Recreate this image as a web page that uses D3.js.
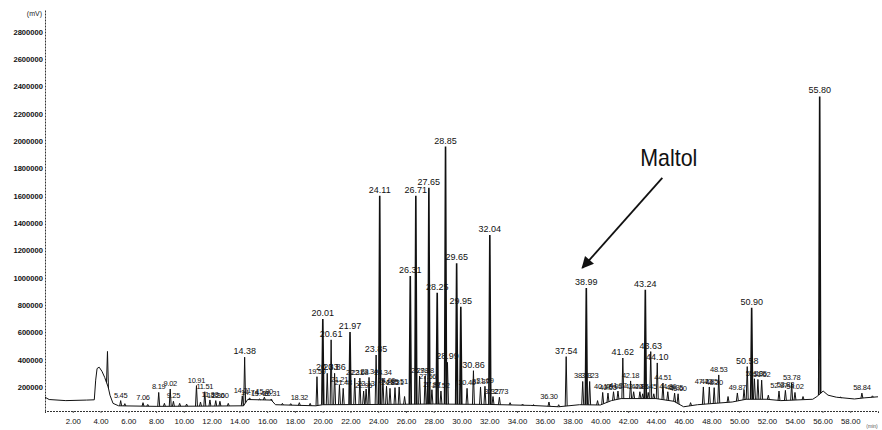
<!DOCTYPE html>
<html>
<head>
<meta charset="utf-8">
<script src="https://cdn.jsdelivr.net/npm/d3@7"></script>
<style>
  body { margin: 0; background: #fff; }
  svg { display: block; font-family: "Liberation Sans", Arial, sans-serif; }
</style>
</head>
<body>
<div id="chart"></div>
<script>
// tick labels
const xTicks = [2, 4, 6, 8, 10, 12, 14, 16, 18, 20, 22, 24, 26, 28, 30, 32, 34, 36, 38, 40, 42, 44, 46, 48, 50, 52, 54, 56, 58];
const yTicks = [200000, 400000, 600000, 800000, 1000000, 1200000, 1400000, 1600000, 1800000, 2000000, 2200000, 2400000, 2600000, 2800000];

// baseline of the trace, [time (min), signal (mV)]
const baseline = [
  [0, 125000], [0.3, 108000], [1.5, 100000], [3.0, 104000], [3.55, 106000],
  [3.65, 250000], [3.75, 335000], [3.9, 345000], [4.1, 315000], [4.3, 270000],
  [4.42, 235000], [4.55, 200000], [4.68, 140000], [4.9, 80000], [5.3, 62000],
  [8, 58000], [12, 60000], [14.3, 62000], [14.6, 108000], [16.3, 104000],
  [16.6, 70000], [19.5, 62000], [20, 70000], [24, 72000], [28, 75000],
  [32, 72000], [35, 65000], [37, 55000], [38.5, 70000], [40, 68000],
  [40.8, 100000], [41.5, 115000], [44, 115000], [45.3, 95000], [46, 55000],
  [47, 70000], [49.5, 90000], [50.5, 110000], [52, 110000], [53, 100000],
  [55.3, 110000], [55.6, 130000], [56.05, 170000], [56.4, 140000], [57, 125000],
  [58.3, 112000], [59, 120000], [60, 128000]
];

// peak retention times, apex heights and labels
const peakTimes = [4.50, 5.45, 5.75, 7.06, 7.40, 8.19, 8.60, 9.02, 9.25, 9.70, 10.20, 10.91, 11.20, 11.51, 11.88, 12.30, 12.60, 13.20,
  14.21, 14.38, 14.74, 15.46, 15.80, 16.31, 17.10, 17.70, 18.32, 19.10, 19.59, 20.01, 20.33, 20.61, 20.86, 21.21, 21.48, 21.97,
  22.31, 22.68, 22.95, 23.13, 23.34, 23.85, 24.11, 24.34, 24.60, 24.85, 25.21, 25.51, 25.90, 26.31, 26.71, 26.98, 27.38, 27.56,
  27.65, 27.87, 28.25, 28.52, 28.85, 28.99, 29.65, 29.95, 30.40, 30.86, 31.37, 31.69, 32.04, 32.27, 32.73, 33.50, 34.40, 35.20,
  36.30, 37.00, 37.54, 38.73, 38.99, 39.23, 39.80, 40.17, 40.55, 40.95, 41.27, 41.62, 42.18, 42.40, 42.85, 43.05, 43.24, 43.45,
  43.63, 43.85, 44.10, 44.51, 44.86, 45.35, 45.60, 46.50, 47.42, 47.85, 48.20, 48.53, 49.20, 49.87, 50.35, 50.58, 50.90, 51.10,
  51.35, 51.62, 52.10, 52.87, 53.33, 53.78, 54.02, 54.60, 55.80, 57.30, 58.84, 59.60];
const peakHeights = [460000, 100000, 78000, 85000, 72000, 160000, 80000, 185000, 95000, 80000, 75000, 210000, 90000, 165000, 105000, 100000, 95000, 80000,
  135000, 418000, 120000, 112000, 125000, 112000, 80000, 78000, 85000, 80000, 275000, 698000, 300000, 545000, 300000, 215000, 190000, 603000,
  265000, 265000, 170000, 185000, 270000, 434000, 1600000, 265000, 205000, 190000, 195000, 200000, 130000, 1013000, 1600000, 280000, 280000, 235000,
  1658000, 180000, 889000, 170000, 1960000, 380000, 1106000, 788000, 190000, 319000, 200000, 205000, 1313000, 130000, 125000, 85000, 75000, 70000,
  90000, 70000, 422000, 240000, 925000, 240000, 100000, 160000, 155000, 165000, 170000, 412000, 244000, 165000, 165000, 150000, 911000, 160000,
  459000, 150000, 376000, 229000, 165000, 155000, 150000, 85000, 200000, 200000, 195000, 288000, 130000, 156000, 180000, 349000, 779000, 260000,
  255000, 250000, 140000, 170000, 175000, 229000, 160000, 130000, 2327000, 125000, 155000, 135000];
const peakLabels = ["", "5.45", "", "7.06", "", "8.19", "", "9.02", "9.25", "", "", "10.91", "", "11.51", "11.88", "12.30", "12.60", "",
  "14.21", "14.38", "14.74", "15.46", "15.80", "16.31", "", "", "18.32", "", "19.59", "20.01", "20.33", "20.61", "20.86", "21.21", "21.48", "21.97",
  "22.31", "22.68", "22.95", "23.13", "23.34", "23.85", "24.11", "24.34", "24.60", "24.85", "25.21", "25.51", "", "26.31", "26.71", "26.98", "27.38", "27.56",
  "27.65", "27.87", "28.25", "28.52", "28.85", "28.99", "29.65", "29.95", "30.40", "30.86", "31.37", "31.69", "32.04", "32.27", "32.73", "", "", "",
  "36.30", "", "37.54", "38.73", "38.99", "39.23", "", "40.17", "40.55", "40.95", "41.27", "41.62", "42.18", "42.40", "42.85", "", "43.24", "43.45",
  "43.63", "", "44.10", "44.51", "44.86", "45.35", "45.60", "", "47.42", "47.85", "48.20", "48.53", "", "49.87", "", "50.58", "50.90", "51.10",
  "51.35", "51.62", "", "52.87", "53.33", "53.78", "54.02", "", "55.80", "", "58.84", ""];

const annotationText = "Maltol";
const annotationPeak = 38.99;

const width = 882, height = 430;

const svg = d3.select('#chart')
  .append('svg')
  .attr('width', width)
  .attr('height', height);

const x = d3.scaleLinear().domain([0, 60]).range([45, 878]);
const y = d3.scaleLinear().domain([24000, 2960000]).range([411, 10]);

// baseline value at a given time (for the feet of each peak)
const baseAt = d3.scaleLinear().domain(baseline.map(d => d[0])).range(baseline.map(d => d[1]));

// X axis
const xAxis = svg.append('g')
  .attr('transform', `translate(0,${y(24000)})`)
  .call(d3.axisBottom(x).tickValues(xTicks).tickSize(2).tickFormat(d3.format('.2f')));
xAxis.select('.domain').attr('stroke', '#333').attr('stroke-dasharray', '2,1');
xAxis.selectAll('.tick line').attr('stroke', '#555');
xAxis.selectAll('text').attr('font-size', 7.8).attr('fill', '#111').attr('dy', '1.05em');

// Y axis
const yAxis = svg.append('g')
  .attr('transform', `translate(${x(0)},0)`)
  .call(d3.axisLeft(y).tickValues(yTicks).tickSize(0).tickPadding(2).tickFormat(d3.format('d')));
yAxis.select('.domain').attr('stroke', '#333').attr('stroke-dasharray', '2,1');
yAxis.selectAll('text').attr('font-size', 7.6).attr('fill', '#111').attr('font-weight', 'bold');

svg.append('text')
  .attr('x', x(0) - 3).attr('y', 16)
  .attr('text-anchor', 'end')
  .attr('font-size', 7)
  .attr('fill', '#222')
  .text('(mV)');

svg.append('text')
  .attr('x', x(60) - 6).attr('y', 428)
  .attr('text-anchor', 'middle')
  .attr('font-size', 5)
  .attr('fill', '#555')
  .text('(min)');

// Baseline trace
const line = d3.line()
  .x(d => x(d[0]))
  .y(d => y(d[1]));

svg.append('path')
  .datum(baseline)
  .attr('d', line)
  .attr('fill', 'none')
  .attr('stroke', '#111')
  .attr('stroke-width', 1);

// Peaks
const peaks = peakTimes.map((t, i) => ({ t: t, v: peakHeights[i], label: peakLabels[i] }));
const hw = 0.07;

svg.append('g')
  .selectAll('path')
  .data(peaks)
  .enter()
  .append('path')
  .attr('d', d => line([[d.t - hw, baseAt(d.t - hw)], [d.t, d.v], [d.t + hw, baseAt(d.t + hw)]]))
  .attr('fill', 'none')
  .attr('stroke', '#111')
  .attr('stroke-width', d => d.v > 600000 ? 1.6 : 1);

// big peaks get full-size labels, the crowded small ones a smaller face
svg.append('g')
  .selectAll('text')
  .data(peaks.filter(d => d.label))
  .enter()
  .append('text')
  .attr('x', d => x(d.t))
  .attr('y', d => y(d.v) - 3)
  .attr('text-anchor', 'middle')
  .attr('font-size', d => d.v >= 300000 ? 9 : 7.5)
  .attr('letter-spacing', d => d.v >= 300000 ? 0 : -0.3)
  .attr('fill', '#111')
  .text(d => d.label);

// Maltol annotation
const tip = peaks.find(d => d.t === annotationPeak);
const tipX = x(tip.t) - 4, tipY = y(tip.v) - 20;
const tailX = tipX + 80, tailY = tipY - 90;

svg.append('defs').append('marker')
  .attr('id', 'arrow')
  .attr('viewBox', '0 0 10 10')
  .attr('refX', 9).attr('refY', 5)
  .attr('markerWidth', 16).attr('markerHeight', 12)
  .attr('markerUnits', 'userSpaceOnUse')
  .attr('orient', 'auto')
  .append('path')
  .attr('d', 'M0,0 L10,5 L0,10 z')
  .attr('fill', '#111');

svg.append('line')
  .attr('x1', tailX).attr('y1', tailY)
  .attr('x2', tipX).attr('y2', tipY)
  .attr('stroke', '#111')
  .attr('stroke-width', 1.8)
  .attr('marker-end', 'url(#arrow)');

svg.append('text')
  .attr('x', tailX - 22).attr('y', tailY - 12)
  .attr('font-family', '"Liberation Sans Narrow", "Arial Narrow", "Liberation Sans", sans-serif')
  .attr('font-size', 24)
  .attr('textLength', 57)
  .attr('lengthAdjust', 'spacingAndGlyphs')
  .attr('fill', '#111')
  .text(annotationText);
</script>
</body>
</html>
